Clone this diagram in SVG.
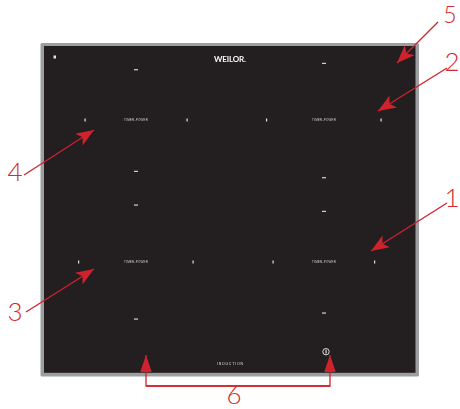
<svg xmlns="http://www.w3.org/2000/svg" width="460" height="409" viewBox="0 0 460 409">
<style>
.num{font:300 26px Lato,"Liberation Sans",Arial,sans-serif;fill:#cf2a30;text-anchor:middle}
.tp{font:3px "Liberation Sans",Arial,sans-serif;fill:#d0cece;text-anchor:middle}
.m{fill:#e4e2e2}
.ln{fill:none;stroke:#cf222c;stroke-width:1.3}
.dim{filter:url(#gray)}
</style>
<defs>
<filter id="gray" x="0" y="0" width="1" height="1" filterUnits="objectBoundingBox" color-interpolation-filters="sRGB"><feOffset dx="0" dy="0"/></filter>
<marker id="ah" markerUnits="userSpaceOnUse" markerWidth="22" markerHeight="18" refX="18" refY="7" orient="auto"><path d="M0 0L18 7L0 14L4.500 7Z" fill="#cf222c"/></marker>
<marker id="au" markerUnits="userSpaceOnUse" markerWidth="22" markerHeight="20" refX="17" refY="5.750" orient="auto"><path d="M0 0L17 5.750L0 11.500Z" fill="#cf222c"/></marker>
</defs>
<g id="cooktop">
<rect x="40.500" y="43" width="378.500" height="333.500" rx="1.500" fill="#9c9ea1"/>
<rect x="44" y="46" width="371.500" height="326.800" fill="#231f20"/>
<text class="dim" x="230" y="61.500" font-family="Lato,'Liberation Sans',sans-serif" font-weight="700" font-size="8" fill="#f7f6f6" text-anchor="middle" textLength="32">WEILOR.</text>
<text class="dim" x="230" y="365" font-family="'Liberation Sans',Arial,sans-serif" font-size="3.500" fill="#e0dede" text-anchor="middle" textLength="26">INDUCTION</text>
<rect class="m" x="53.500" y="55.500" width="2.500" height="3"/>
<circle cx="326" cy="351.700" r="3.200" fill="none" stroke="#ededed" stroke-width="0.900"/>
<rect x="325.500" y="349.800" width="1.100" height="3.800" fill="#ededed"/>
</g>
<g id="zone-4">
<rect class="m" x="134" y="69.200" width="4" height="1.100"/>
<rect class="m" x="134" y="170.800" width="4" height="1.100"/>
<rect class="m" x="84.500" y="118.500" width="1.200" height="3"/>
<rect class="m" x="186.500" y="118.500" width="1.200" height="3"/>
<text class="tp dim" x="136" y="121" textLength="24">TIMER-POWER</text>
</g>
<g id="zone-2">
<rect class="m" x="322" y="62.800" width="4" height="1.100"/>
<rect class="m" x="322" y="177.200" width="4" height="1.100"/>
<rect class="m" x="266" y="118.500" width="1.200" height="3"/>
<rect class="m" x="380.500" y="118.500" width="1.200" height="3"/>
<text class="tp dim" x="324" y="121" textLength="24">TIMER-POWER</text>
</g>
<g id="zone-3">
<rect class="m" x="134" y="204.500" width="4" height="1.100"/>
<rect class="m" x="134" y="318.500" width="4" height="1.100"/>
<rect class="m" x="78" y="260.500" width="1.200" height="3"/>
<rect class="m" x="192.500" y="260.500" width="1.200" height="3"/>
<text class="tp dim" x="136" y="263" textLength="24">TIMER-POWER</text>
</g>
<g id="zone-1">
<rect class="m" x="322" y="210.800" width="4" height="1.100"/>
<rect class="m" x="322" y="312.500" width="4" height="1.100"/>
<rect class="m" x="272.500" y="260.500" width="1.200" height="3"/>
<rect class="m" x="374" y="260.500" width="1.200" height="3"/>
<text class="tp dim" x="324" y="263" textLength="24">TIMER-POWER</text>
</g>
<g id="connectors">
<path class="ln" marker-end="url(#ah)" d="M24 175L94 130"/>
<path class="ln" marker-end="url(#ah)" d="M438 22L397 63"/>
<path class="ln" marker-end="url(#ah)" d="M447 68L378 111"/>
<path class="ln" marker-end="url(#ah)" d="M447 203L371 251"/>
<path class="ln" marker-end="url(#ah)" d="M26 312L94 269"/>
<path class="ln" marker-end="url(#au)" d="M330 386H146V355"/>
<path class="ln" marker-end="url(#au)" d="M146 386H330V355"/>
</g>
<g id="labels">
<text class="num" x="450" y="23" style="font-size:23px">5</text>
<text class="num" x="452" y="71">2</text>
<text class="num" x="452" y="207">1</text>
<text class="num" x="15" y="321">3</text>
<text class="num" x="15" y="181">4</text>
<text class="num" x="234" y="404">6</text>
</g>
</svg>
